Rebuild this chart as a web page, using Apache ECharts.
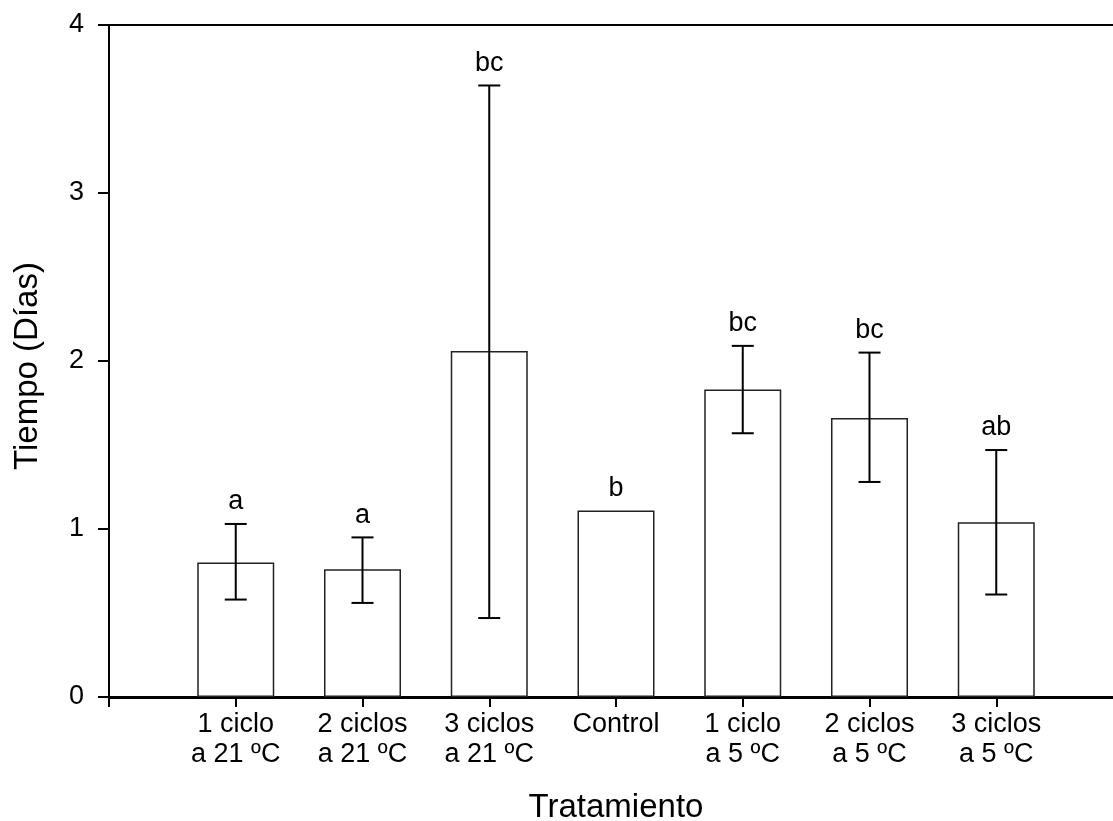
<!DOCTYPE html>
<html>
<head>
<meta charset="utf-8">
<script src="https://cdn.jsdelivr.net/npm/echarts@6/dist/echarts.min.js"></script>
<style>
  html, body { margin: 0; padding: 0; background: #fff; overflow: hidden; }
  /* plot runs a little past the right edge of the window, as in the original figure */
  #chart { width: 1123px; height: 821px; }
</style>
</head>
<body>
<div id="chart"></div>
<script>
// empty slots at each end so the bars sit on the inner tick points
const categories = ['', '1 ciclo\na 21 ºC', '2 ciclos\na 21 ºC', '3 ciclos\na 21 ºC', 'Control',
  '1 ciclo\na 5 ºC', '2 ciclos\na 5 ºC', '3 ciclos\na 5 ºC', '']
const means = [0.80, 0.76, 2.06, 1.11, 1.83, 1.66, 1.04]
const errUpper = [1.03, 0.95, 3.64, null, 2.09, 2.05, 1.47]
const errLower = [0.58, 0.56, 0.47, null, 1.57, 1.28, 0.61]
const letters = ['a', 'a', 'bc', 'b', 'bc', 'bc', 'ab']
const yTicks = [0, 1, 2, 3, 4]

const font = 'Liberation Sans, Arial, Helvetica, sans-serif'

const chart = echarts.init(document.getElementById('chart'))

const barData = ['-'].concat(means).concat(['-'])
const errData = means.map((m, i) => [i + 1, m, errLower[i] == null ? m : errLower[i], errUpper[i] == null ? m : errUpper[i]])

chart.setOption({
  animation: false,
  grid: { left: 109, top: 25, bottom: 124, right: 0, outerBoundsMode: 'none', containLabel: false },
  xAxis: [{
    type: 'category',
    data: categories,
    boundaryGap: false,
    position: 'bottom',
    name: 'Tratamiento',
    nameLocation: 'middle',
    nameGap: 94,
    nameTextStyle: { fontSize: 33, fontFamily: font, color: '#000' },
    axisLine: { lineStyle: { color: '#000', width: 3 } },
    axisTick: { show: true, length: 10, lineStyle: { color: '#000', width: 2 } },
    axisLabel: { fontSize: 27, fontFamily: font, color: '#000', margin: 13, lineHeight: 30, interval: 0 }
  }, {
    type: 'category',
    data: categories,
    boundaryGap: false,
    position: 'top',
    axisLine: { show: true, lineStyle: { color: '#000', width: 2 } },
    axisTick: { show: false },
    axisLabel: { show: false }
  }],
  yAxis: {
    type: 'value',
    min: yTicks[0],
    max: yTicks[yTicks.length - 1],
    interval: 1,
    name: 'Tiempo (Días)',
    nameLocation: 'middle',
    nameGap: 65,
    nameTextStyle: { fontSize: 33, fontFamily: font, color: '#000', padding: [0, 10, 0, 0] },
    axisLine: { show: true, lineStyle: { color: '#000', width: 2 } },
    axisTick: { show: true, length: 11, lineStyle: { color: '#000', width: 2 } },
    axisLabel: { fontSize: 27, fontFamily: font, color: '#000', margin: 25 },
    splitLine: { show: false }
  },
  series: [{
    type: 'bar',
    data: barData,
    barWidth: 77,
    itemStyle: { color: '#fff', borderColor: '#222', borderWidth: 1.5 },
    z: 2
  }, {
    type: 'custom',
    xAxisIndex: 0,
    yAxisIndex: 0,
    data: errData,
    z: 3,
    renderItem(params, api) {
      const i = params.dataIndex
      const x = api.value(0)
      const lo = api.coord([x, api.value(2)])
      const hi = api.coord([x, api.value(3)])
      const top = api.coord([x, Math.max(api.value(1), api.value(3))])
      const cap = 11
      const children = []
      const ls = { stroke: '#000', lineWidth: 2 }
      if (errUpper[i] != null) {
        children.push(
          { type: 'line', shape: { x1: hi[0], y1: hi[1], x2: lo[0], y2: lo[1] }, style: ls },
          { type: 'line', shape: { x1: hi[0] - cap, y1: hi[1], x2: hi[0] + cap, y2: hi[1] }, style: ls },
          { type: 'line', shape: { x1: lo[0] - cap, y1: lo[1], x2: lo[0] + cap, y2: lo[1] }, style: ls }
        )
      }
      children.push({
        type: 'text',
        style: {
          text: letters[i], x: top[0], y: top[1] - 22,
          align: 'center', verticalAlign: 'middle',
          fontSize: 27, fontFamily: font, fill: '#000'
        }
      })
      return { type: 'group', children }
    }
  }]
})
</script>
</body>
</html>
